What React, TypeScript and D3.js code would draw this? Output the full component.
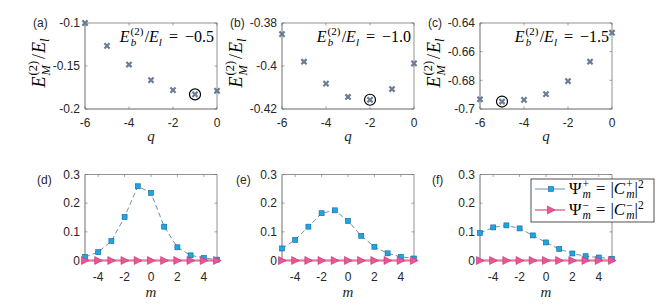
import React from "react";
import * as d3 from "d3";

// top row: binding energies vs q
const qValues = [-6, -5, -4, -3, -2, -1, 0];
const energyA = [-0.1, -0.1266, -0.1483, -0.1664, -0.178, -0.183, -0.1788];
const energyB = [-0.3852, -0.398, -0.4082, -0.4144, -0.4157, -0.4107, -0.3988];
const energyC = [-0.6932, -0.6948, -0.6936, -0.6896, -0.6806, -0.667, -0.6468];
const bindingRatios = ["\u22120.5", "\u22121.0", "\u22121.5"];
const energyLabels = ["(a)", "(b)", "(c)"];
const energyDomains: [number, number][] = [[-0.2, -0.1], [-0.42, -0.38], [-0.7, -0.64]];
const energyTicks = [[-0.2, -0.15, -0.1], [-0.42, -0.4, -0.38], [-0.7, -0.68, -0.66, -0.64]];
const qTicks = [-6, -4, -2, 0];

// bottom row: populations vs m
const mValues = [-5, -4, -3, -2, -1, 0, 1, 2, 3, 4, 5];
const psiPlusD = [0.0125, 0.029, 0.068, 0.152, 0.259, 0.236, 0.118, 0.046, 0.018, 0.009, 0.003];
const psiPlusE = [0.042, 0.072, 0.118, 0.165, 0.175, 0.138, 0.086, 0.048, 0.025, 0.013, 0.007];
const psiPlusF = [0.096, 0.1155, 0.1225, 0.112, 0.0875, 0.063, 0.04, 0.0245, 0.015, 0.0105, 0.006];
const psiMinusD = [0, 0, 0, 0, 0, 0, 0, 0, 0, 0, 0];
const psiMinusE = [0, 0, 0, 0, 0, 0, 0, 0, 0, 0, 0];
const psiMinusF = [0, 0, 0, 0, 0, 0, 0, 0, 0, 0, 0];
const probLabels = ["(d)", "(e)", "(f)"];
const probTicks = [0, 0.1, 0.2, 0.3];
const mTicks = [-4, -2, 0, 2, 4];

const SANS = "'Liberation Sans', Arial, Helvetica, sans-serif";
const SERIF = "'Liberation Serif', 'Times New Roman', serif";
const TXT = "#262626";
const CROSS = "#6b7d96";
const BLUE = "#16a9e8";
const BLUE_EDGE = "#1d5f8e";
const BLUE_LINE = "#44739f";
const PINK = "#ea5596";
const PINK_EDGE = "#c2346f";
const PINK_LINE = "#e677a8";

const PW = 132;
const PH = 86;
const lefts = [85, 282, 480];
const topRowY = 23;
const botRowY = 174.5;

function Frame({ x, y, xTicks, yTicks }: any) {
  const [x0, x1] = x.range();
  const [y1, y0] = y.range();
  return (
    <g>
      <line x1={x0} x2={x1} y1={y0} y2={y0} stroke="#777" strokeWidth={0.8} />
      <line x1={x1} x2={x1} y1={y0} y2={y1} stroke="#777" strokeWidth={0.8} />
      <line x1={x0} x2={x0} y1={y0} y2={y1} stroke="#999" strokeWidth={1.4} />
      <line x1={x0} x2={x1} y1={y1} y2={y1} stroke="#999" strokeWidth={1.4} />
      {xTicks.map((t: number) => (
        <g key={"x" + t}>
          <line x1={x(t)} x2={x(t)} y1={y1} y2={y1 - 2.5} stroke="#666" strokeWidth={0.6} />
          <line x1={x(t)} x2={x(t)} y1={y0} y2={y0 + 2.5} stroke="#666" strokeWidth={0.6} />
        </g>
      ))}
      {yTicks.map((t: number) => (
        <g key={"y" + t}>
          <line x1={x0} x2={x0 + 2.5} y1={y(t)} y2={y(t)} stroke="#666" strokeWidth={0.6} />
          <line x1={x1} x2={x1 - 2.5} y1={y(t)} y2={y(t)} stroke="#666" strokeWidth={0.6} />
        </g>
      ))}
    </g>
  );
}

function TickLabels({ x, y, xTicks, yTicks, xGap }: any) {
  const [x0] = x.range();
  const [y1] = y.range();
  return (
    <g fontFamily={SANS} fontSize={12} fill={TXT}>
      {xTicks.map((t: number) => (
        <text key={"x" + t} x={x(t)} y={y1 + xGap} textAnchor="middle">{String(t)}</text>
      ))}
      {yTicks.map((t: number) => (
        <text key={"y" + t} x={x0 - 5} y={y(t) + 4.3} textAnchor="end">{String(t)}</text>
      ))}
    </g>
  );
}

function EnergyPanel({ i }: { i: number }) {
  const L = lefts[i];
  const T = topRowY;
  const series = [energyA, energyB, energyC][i];
  const x = d3.scaleLinear().domain([-6, 0]).range([L, L + PW]);
  const y = d3.scaleLinear().domain(energyDomains[i]).range([T + PH, T]);
  const minIdx = d3.minIndex(series);
  const cross = "M-2.6,-2.6L2.6,2.6M-2.6,2.6L2.6,-2.6";
  return (
    <g>
      <Frame x={x} y={y} xTicks={qTicks} yTicks={energyTicks[i]} />
      <TickLabels x={x} y={y} xTicks={qTicks} yTicks={energyTicks[i]} xGap={18} />
      {series.map((v, j) => (
        <path key={j} d={cross} transform={`translate(${x(qValues[j])},${y(v)})`}
          stroke={CROSS} strokeWidth={2.2} fill="none" />
      ))}
      <circle cx={x(qValues[minIdx])} cy={y(series[minIdx])} r={5.5} fill="none" stroke="#000" strokeWidth={1.2} />
      <text x={L - 52} y={T + 4} fontFamily={SANS} fontSize={12} fill={TXT}>{energyLabels[i]}</text>
      <text x={L + PW - 3} y={T + 19} textAnchor="end" fontFamily={SERIF} fontSize={16} fill="#000">
        <tspan fontStyle="italic">E</tspan>
        <tspan fontSize={11} dx={1} dy={-7.5}>(2)</tspan>
        <tspan fontSize={11} fontStyle="italic" dx={-12.8} dy={11.5}>b</tspan>
        <tspan dx={8.5} dy={-4}>/</tspan>
        <tspan fontStyle="italic">E</tspan>
        <tspan fontSize={11} fontStyle="italic" dy={3.5}>l</tspan>
        <tspan dx={7} dy={-3.5}>=</tspan>
        <tspan dx={7}>{bindingRatios[i]}</tspan>
      </text>
      <text transform={`translate(${L - 40},${T + 40}) rotate(-90)`} textAnchor="middle"
        fontFamily={SERIF} fontSize={18} fill="#000">
        <tspan fontStyle="italic">E</tspan>
        <tspan fontSize={12.5} dx={1} dy={-8.5}>(2)</tspan>
        <tspan fontSize={12.5} fontStyle="italic" dx={-14.6} dy={13}>M</tspan>
        <tspan dx={6} dy={-4.5}>/</tspan>
        <tspan dx={1} fontStyle="italic">E</tspan>
        <tspan fontSize={12.5} fontStyle="italic" dy={4}>l</tspan>
      </text>
      <text x={L + PW / 2} y={T + PH + 32} textAnchor="middle" fontFamily={SERIF}
        fontStyle="italic" fontSize={15} fill={TXT}>q</text>
    </g>
  );
}

const square = (cx: number, cy: number, k: any) => (
  <rect key={k} x={cx - 2.5} y={cy - 2.5} width={5} height={5} fill={BLUE} stroke={BLUE_EDGE} strokeWidth={0.6} />
);
const triangle = "M-3.6,-4L4.2,0L-3.6,4Z";

function ProbPanel({ i }: { i: number }) {
  const L = lefts[i];
  const T = botRowY;
  const plus = [psiPlusD, psiPlusE, psiPlusF][i];
  const minus = [psiMinusD, psiMinusE, psiMinusF][i];
  const x = d3.scaleLinear().domain([-5, 5]).range([L, L + PW]);
  const y = d3.scaleLinear().domain([0, 0.3]).range([T + PH, T]);
  const line = d3.line<number>().x((_, j) => x(mValues[j])).y((v) => y(v));
  return (
    <g>
      <Frame x={x} y={y} xTicks={mTicks} yTicks={probTicks} />
      <TickLabels x={x} y={y} xTicks={mTicks} yTicks={probTicks} xGap={20} />
      <path d={line(plus) || ""} fill="none" stroke={BLUE_LINE} strokeWidth={0.8} strokeDasharray="5,3" />
      <path d={line(minus) || ""} fill="none" stroke={PINK_LINE} strokeWidth={1.8} />
      {plus.map((v, j) => square(x(mValues[j]), y(v), j))}
      {minus.map((v, j) => (
        <path key={j} d={triangle} transform={`translate(${x(mValues[j])},${y(v)})`}
          fill={PINK} stroke={PINK_EDGE} strokeWidth={0.6} />
      ))}
      <text x={L - 48 + (i === 1 ? 2 : 0)} y={T + 9} fontFamily={SANS} fontSize={12} fill={TXT}>{probLabels[i]}</text>
      <text x={L + PW / 2} y={T + PH + 36} textAnchor="middle" fontFamily={SERIF}
        fontStyle="italic" fontSize={15} fill={TXT}>m</text>
    </g>
  );
}

function Legend() {
  const bx = 531, by = 179, bw = 123, bh = 43;
  const rows = [
    { y: by + 10, sign: "+", line: BLUE_LINE, w: 0.8, plus: true },
    { y: by + 31, sign: "\u2212", line: PINK_LINE, w: 1.6, plus: false },
  ];
  return (
    <g>
      <rect x={bx} y={by} width={bw} height={bh} fill="#fff" stroke={TXT} strokeWidth={0.8} />
      {rows.map((r, k) => (
        <g key={k}>
          <line x1={bx + 4} x2={bx + 34} y1={r.y} y2={r.y} stroke={r.line} strokeWidth={r.w} />
          {r.plus
            ? square(bx + 20, r.y, "s")
            : <path d={triangle} transform={`translate(${bx + 20},${r.y})`} fill={PINK} stroke={PINK_EDGE} strokeWidth={0.6} />}
          <text x={bx + 38} y={r.y + 5} fontFamily={SERIF} fontSize={17} fill="#000">
            <tspan>Ψ</tspan>
            <tspan fontSize={11.5} dx={1} dy={-6.5}>{r.sign}</tspan>
            <tspan fontSize={11.5} fontStyle="italic" dx={-6.5} dy={10.5}>m</tspan>
            <tspan dx={5} dy={-4}>=</tspan>
            <tspan dx={5}>|</tspan>
            <tspan fontStyle="italic">C</tspan>
            <tspan fontSize={11.5} dx={1} dy={-6.5}>{r.sign}</tspan>
            <tspan fontSize={11.5} fontStyle="italic" dx={-6.5} dy={10.5}>m</tspan>
            <tspan dy={-4}>|</tspan>
            <tspan fontSize={11.5} dy={-6.5}>2</tspan>
          </text>
        </g>
      ))}
    </g>
  );
}

export default function App() {
  return (
    <svg width={664} height={308} style={{ position: "absolute", left: 0, top: 0, background: "#fff" }}>
      {[0, 1, 2].map((i) => <EnergyPanel key={"e" + i} i={i} />)}
      {[0, 1, 2].map((i) => <ProbPanel key={"p" + i} i={i} />)}
      <Legend />
    </svg>
  );
}
